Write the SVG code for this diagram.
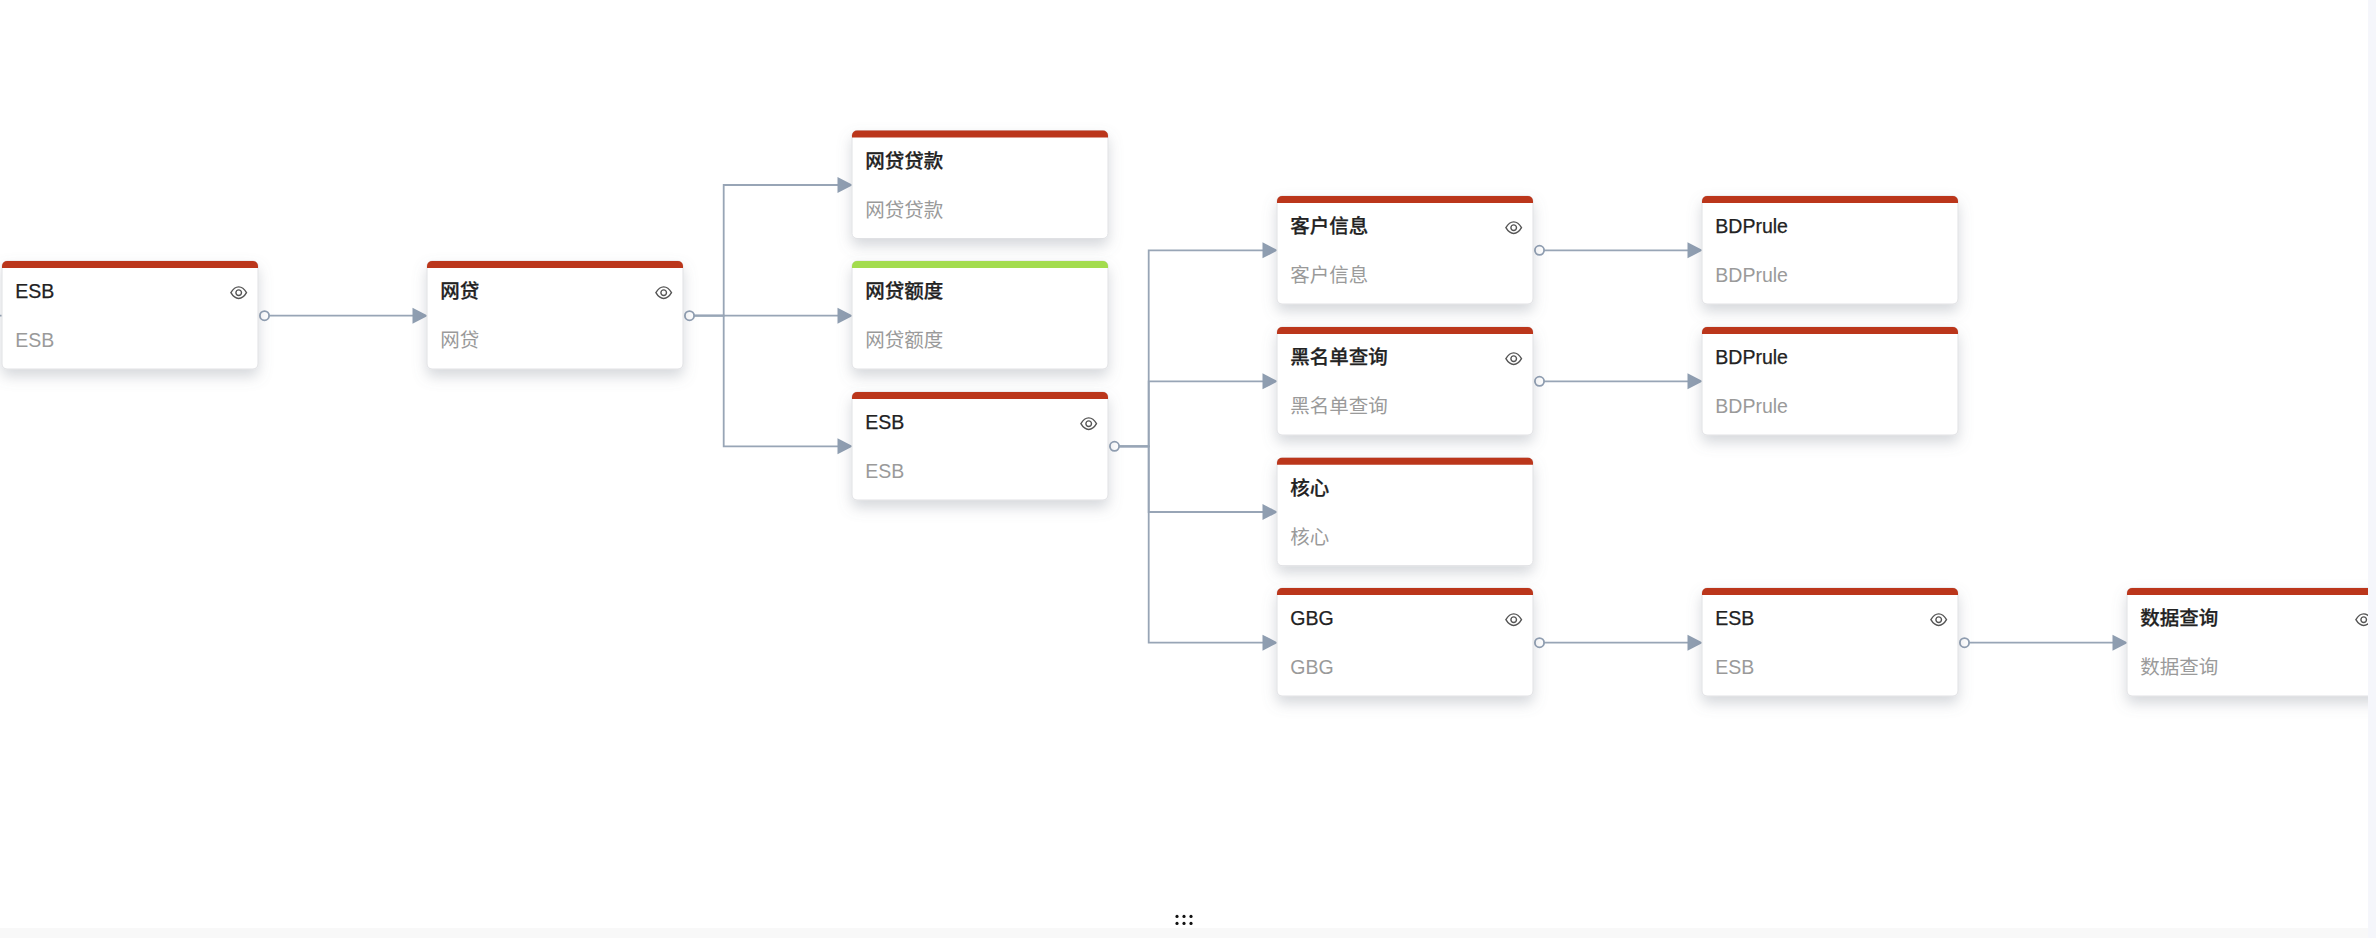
<svg xmlns="http://www.w3.org/2000/svg" width="2376" height="938" viewBox="0 0 2376 938">
<style>
.card{fill:#fff;stroke:#e0e1e4;stroke-width:1;filter:url(#sh)}
.t{font:500 19.5px "Liberation Sans","Noto Sans CJK SC",sans-serif;fill:#222;stroke:#222;stroke-width:.25}
.s{font:400 19.5px "Liberation Sans","Noto Sans CJK SC",sans-serif;fill:#9a9a9a}
.r{fill:#bb361b}
.g{fill:#a3dc4e}
.c{fill:none;stroke:#98a5b6;stroke-width:1.8}
.a{fill:#8f9eb1}
.o{fill:#fff;stroke:#8f9eb1;stroke-width:1.8}
</style>
<defs>
<filter id="sh" x="-15%" y="-20%" width="130%" height="160%"><feDropShadow dx="0" dy="7" stdDeviation="7" flood-color="#767d8c" flood-opacity="0.3"/></filter>
<symbol id="bar" viewBox="0 0 256 8" width="256" height="8" overflow="visible"><path d="M0 7V5a5 5 0 0 1 5-5H251a5 5 0 0 1 5 5V7Z"/></symbol>
<g id="eye" fill="none" stroke="#555" stroke-width="1.4"><path d="M-7.8 0C-5 -4.8 -2.5 -5.8 0 -5.8S5 -4.8 7.8 0C5 4.8 2.5 5.8 0 5.8S-5 4.8 -7.8 0Z"/><circle r="2.8"/></g>
<clipPath id="vp"><rect x="0" y="0" width="2368" height="928"/></clipPath>
</defs>
<rect width="2376" height="938" fill="#fff"/>
<rect x="2368" y="0" width="8" height="938" fill="#f5f6fb"/>
<rect x="0" y="928" width="2368" height="10" fill="#f8f8f8"/>
<g id="connectors">
<path class="c" d="M0 315.7H2"/>
<path class="c" d="M264 315.7H414"/>
<path class="c" d="M689 315.7H723.7V185H838"/>
<path class="c" d="M689 315.7H838"/>
<path class="c" d="M689 315.7H723.7V446.3H838"/>
<path class="c" d="M1115 446.3H1148.7V250.3H1264"/>
<path class="c" d="M1115 446.3H1148.7V381.3H1264"/>
<path class="c" d="M1115 446.3H1148.7V512H1264"/>
<path class="c" d="M1115 446.3H1148.7V642.7H1264"/>
<path class="c" d="M1540 250.3H1690"/>
<path class="c" d="M1540 381.3H1690"/>
<path class="c" d="M1540 642.7H1690"/>
<path class="c" d="M1965 642.7H2115"/>
<path class="a" d="M428 315.7L412.5 307.7V323.7Z"/>
<path class="a" d="M853 185L837.500 177V193Z"/>
<path class="a" d="M853 315.7L837.500 307.7V323.7Z"/>
<path class="a" d="M853 446.3L837.500 438.300V454.300Z"/>
<path class="a" d="M1278 250.3L1262.500 242.300V258.300Z"/>
<path class="a" d="M1278 381.3L1262.500 373.300V389.300Z"/>
<path class="a" d="M1278 512L1262.500 504V520Z"/>
<path class="a" d="M1278 642.7L1262.500 634.700V650.700Z"/>
<path class="a" d="M1703 250.3L1687.500 242.300V258.300Z"/>
<path class="a" d="M1703 381.3L1687.500 373.300V389.300Z"/>
<path class="a" d="M1703 642.7L1687.500 634.700V650.700Z"/>
<path class="a" d="M2128 642.7L2112.500 634.700V650.700Z"/>
<circle class="o" cx="264.5" cy="315.7" r="4.6"/>
<circle class="o" cx="689.5" cy="315.7" r="4.6"/>
<circle class="o" cx="1114.5" cy="446.3" r="4.6"/>
<circle class="o" cx="1539.5" cy="250.3" r="4.6"/>
<circle class="o" cx="1539.5" cy="381.3" r="4.6"/>
<circle class="o" cx="1539.5" cy="642.7" r="4.6"/>
<circle class="o" cx="1964.5" cy="642.7" r="4.6"/>
</g>
<g id="node-esb-1" transform="translate(2 261)"><rect class="card" width="256" height="108" rx="5"/><use href="#bar" class="r"/><text class="t" x="13.300" y="37">ESB</text><text class="s" x="13.300" y="86">ESB</text><use href="#eye" x="236.7" y="31.7"/></g>
<g id="node-wangdai" transform="translate(427 261)"><rect class="card" width="256" height="108" rx="5"/><use href="#bar" class="r"/><text class="t" x="13.300" y="37">网贷</text><text class="s" x="13.300" y="86">网贷</text><use href="#eye" x="236.7" y="31.7"/></g>
<g id="node-wangdaidaikuan" transform="translate(852 130.5)"><rect class="card" width="256" height="108" rx="5"/><use href="#bar" class="r"/><text class="t" x="13.300" y="37">网贷贷款</text><text class="s" x="13.300" y="86">网贷贷款</text></g>
<g id="node-wangdaiedu" transform="translate(852 261)"><rect class="card" width="256" height="108" rx="5"/><use href="#bar" class="g"/><text class="t" x="13.300" y="37">网贷额度</text><text class="s" x="13.300" y="86">网贷额度</text></g>
<g id="node-esb-2" transform="translate(852 392)"><rect class="card" width="256" height="108" rx="5"/><use href="#bar" class="r"/><text class="t" x="13.300" y="37">ESB</text><text class="s" x="13.300" y="86">ESB</text><use href="#eye" x="236.7" y="31.7"/></g>
<g id="node-kehuxinxi" transform="translate(1277 196)"><rect class="card" width="256" height="108" rx="5"/><use href="#bar" class="r"/><text class="t" x="13.300" y="37">客户信息</text><text class="s" x="13.300" y="86">客户信息</text><use href="#eye" x="236.7" y="31.7"/></g>
<g id="node-heimingdan" transform="translate(1277 327)"><rect class="card" width="256" height="108" rx="5"/><use href="#bar" class="r"/><text class="t" x="13.300" y="37">黑名单查询</text><text class="s" x="13.300" y="86">黑名单查询</text><use href="#eye" x="236.7" y="31.7"/></g>
<g id="node-hexin" transform="translate(1277 457.7)"><rect class="card" width="256" height="108" rx="5"/><use href="#bar" class="r"/><text class="t" x="13.300" y="37">核心</text><text class="s" x="13.300" y="86">核心</text></g>
<g id="node-gbg" transform="translate(1277 588)"><rect class="card" width="256" height="108" rx="5"/><use href="#bar" class="r"/><text class="t" x="13.300" y="37">GBG</text><text class="s" x="13.300" y="86">GBG</text><use href="#eye" x="236.7" y="31.7"/></g>
<g id="node-bdprule-1" transform="translate(1702 196)"><rect class="card" width="256" height="108" rx="5"/><use href="#bar" class="r"/><text class="t" x="13.300" y="37">BDPrule</text><text class="s" x="13.300" y="86">BDPrule</text></g>
<g id="node-bdprule-2" transform="translate(1702 327)"><rect class="card" width="256" height="108" rx="5"/><use href="#bar" class="r"/><text class="t" x="13.300" y="37">BDPrule</text><text class="s" x="13.300" y="86">BDPrule</text></g>
<g id="node-esb-3" transform="translate(1702 588)"><rect class="card" width="256" height="108" rx="5"/><use href="#bar" class="r"/><text class="t" x="13.300" y="37">ESB</text><text class="s" x="13.300" y="86">ESB</text><use href="#eye" x="236.7" y="31.7"/></g>
<g clip-path="url(#vp)"><g id="node-shujuchaxun" transform="translate(2127 588)"><rect class="card" width="256" height="108" rx="5"/><use href="#bar" class="r"/><text class="t" x="13.300" y="37">数据查询</text><text class="s" x="13.300" y="86">数据查询</text><use href="#eye" x="236.7" y="31.7"/></g></g>
<g id="handle" fill="#111"><circle cx="1177" cy="916.4" r="1.6"/><circle cx="1184" cy="916.4" r="1.6"/><circle cx="1191" cy="916.4" r="1.6"/><circle cx="1177" cy="923.4" r="1.6"/><circle cx="1184" cy="923.4" r="1.6"/><circle cx="1191" cy="923.4" r="1.6"/></g>
</svg>
